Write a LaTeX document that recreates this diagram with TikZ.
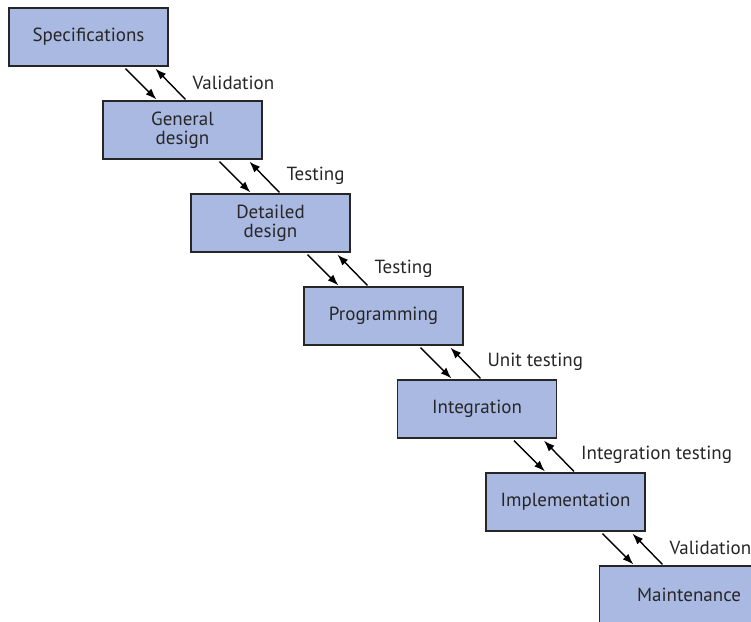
\documentclass[tikz,border=0pt]{standalone}
\usepackage{fontspec}
\setmainfont{PT Sans}
\usetikzlibrary{arrows.meta,calc}
\definecolor{phaseblue}{RGB}{170,185,225}
\tikzset{Waterfall/.style = {% styles of the phase chart
      phase/.style = {rectangle, draw=black!85, line width=1.2pt, fill=phaseblue,
                      minimum width=159pt, minimum height=58pt, inner sep=0pt,
                      align=center, text=black!85,
                      font=\fontsize{19}{19}\selectfont},
      check/.style = {anchor=west, text=black!85, inner sep=0pt,
                      font=\fontsize{19}{19}\selectfont},
      arrow/.style = {line width=1.4pt, -{Latex[length=11pt,width=8pt]}}}
        }

\begin{document}
\begin{tikzpicture}[Waterfall, x=1pt, y=-1pt]
\useasboundingbox (0,0) rectangle (751,621);
\clip (0,0) rectangle (751,621);

% nodes
\node (spec)  [phase] at (88.5,37)  {Specifications};
\node (gen)   [phase] at (182.5,130) {General\\design};
\node (det)   [phase] at (270.5,223) {Detailed\\design};
\node (prog)  [phase] at (383.5,316) {Programming};
\node (integ) [phase] at (477,409)   {Integration};
\node (impl)  [phase] at (565.5,502) {Implementation};
\node (maint) [phase, minimum width=179pt, anchor=west] at (599,595) {Maintenance};

% forward and feedback arrows
\foreach \up/\low/\lbl in {spec/gen/Validation, gen/det/Testing, det/prog/Testing,
    prog/integ/Unit testing, integ/impl/Integration testing, impl/maint/Validation}
{
  \draw [arrow] let \p1 = (\up.south west), \p2 = (\low.north) in
    (\x1+117pt,\y1-2pt) -- (\x1+148pt,\y2+1pt);
  \draw [arrow] let \p1 = (\up.south west), \p2 = (\low.north) in
    (\x1+177pt,\y2+1pt) -- (\x1+147pt,\y1-2pt);
  \node [check] at ($(\up.south west)+(184,16)$) {\lbl};
}
\end{tikzpicture}
\end{document}
